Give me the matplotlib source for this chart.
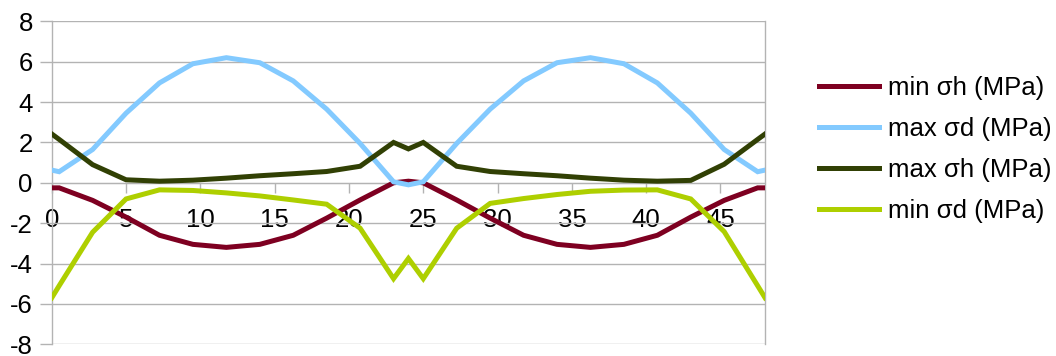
import matplotlib.pyplot as plt

plt.rcParams['font.family'] = ['Liberation Sans', 'DejaVu Sans']
plt.rcParams['axes.unicode_minus'] = False

# sample positions along the section
x = [0, 0.5, 2.75, 5, 7.25, 9.5, 11.75, 14, 16.25, 18.5, 20.75, 23, 24,
     25, 27.25, 29.5, 31.75, 34, 36.25, 38.5, 40.75, 43, 45.25, 47.5, 48]

min_sh = [-0.25, -0.25, -0.87, -1.7, -2.6, -3.05, -3.2, -3.05, -2.6, -1.75, -0.85, 0.0, 0.08,
          0.0, -0.85, -1.75, -2.6, -3.05, -3.2, -3.05, -2.6, -1.7, -0.87, -0.25, -0.25]
max_sd = [0.63, 0.55, 1.65, 3.45, 4.95, 5.9, 6.2, 5.95, 5.05, 3.65, 1.95, 0.05, -0.1,
          0.05, 1.95, 3.65, 5.05, 5.95, 6.2, 5.9, 4.95, 3.45, 1.65, 0.55, 0.63]
max_sh = [2.42, 2.15, 0.9, 0.15, 0.08, 0.13, 0.23, 0.35, 0.45, 0.56, 0.82, 2.0, 1.68,
          2.0, 0.82, 0.56, 0.45, 0.35, 0.23, 0.13, 0.08, 0.12, 0.92, 2.15, 2.42]
min_sd = [-5.7, -5.1, -2.45, -0.8, -0.35, -0.38, -0.5, -0.65, -0.85, -1.06, -2.25, -4.75, -3.75,
          -4.75, -2.25, -1.02, -0.78, -0.58, -0.42, -0.36, -0.35, -0.8, -2.42, -5.1, -5.7]

labels = ['min σh (MPa)', 'max σd (MPa)', 'max σh (MPa)', 'min σd (MPa)']
colors = ['#7e0021', '#83caff', '#314004', '#aecf00']
series = [min_sh, max_sd, max_sh, min_sd]

grid_col = '#b3b3b3'
fs = 18.5

fig = plt.figure(figsize=(10.56, 3.56), dpi=100)
ax = fig.add_axes([0.049, 0.033, 0.6755, 0.907])

for ys, lab, c in zip(series, labels, colors):
    ax.plot(x, ys, color=c, lw=3.6, label=lab, zorder=3, solid_joinstyle='miter')

ax.set_xlim(0, 48)
ax.set_ylim(-8, 8)
ax.set_yticks(range(-8, 9, 2))
ax.set_xticks(range(0, 46, 5))
ax.yaxis.grid(True, color=grid_col, lw=1)
ax.set_axisbelow(True)

ax.spines['top'].set_visible(False)
ax.spines['bottom'].set_position(('data', 0))
ax.spines['bottom'].set_color(grid_col)
for s in ('left', 'right'):
    ax.spines[s].set_color(grid_col)
    ax.spines[s].set_linewidth(1)

ax.tick_params(axis='y', direction='out', length=8.6, color=grid_col, width=1,
               labelsize=fs, pad=5)
ax.tick_params(axis='x', direction='out', length=7.2, color=grid_col, width=1,
               labelsize=fs, pad=11)

ax.legend(loc='center left', bbox_to_anchor=(819 / 1056, 0.581),
          bbox_transform=fig.transFigure, frameon=False, fontsize=fs,
          handlelength=2.33, handletextpad=0.34, labelspacing=0.66,
          borderpad=0, borderaxespad=0)

fig.savefig('out.png', dpi=100)
